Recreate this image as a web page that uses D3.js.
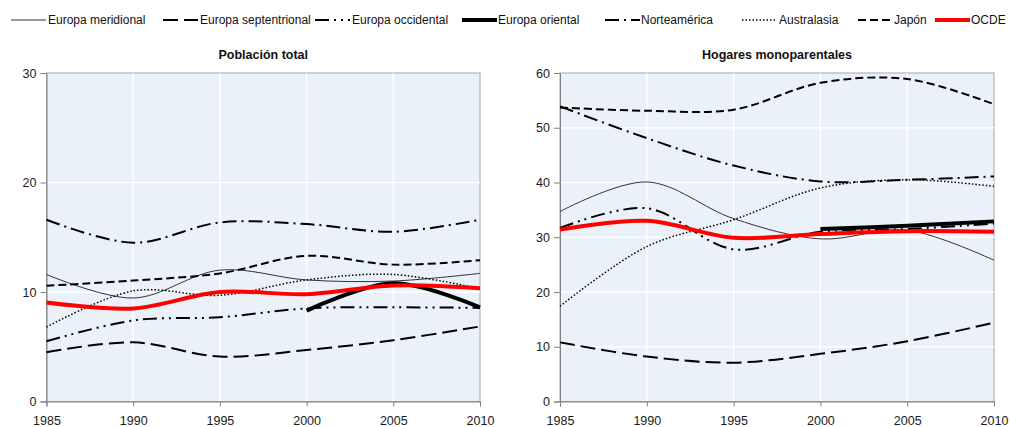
<!DOCTYPE html>
<html>
<head>
<meta charset="utf-8">
<script src="https://cdn.jsdelivr.net/npm/d3@7"></script>
<style>
  body { margin: 0; background: #fff; }
  svg { display: block; font-family: "Liberation Sans", Arial, sans-serif; }
</style>
</head>
<body>
<div id="chart"></div>
<script>
// years on the x axis
var years = [1985, 1990, 1995, 2000, 2005, 2010];

var seriesNames = ["Europa meridional", "Europa septentrional", "Europa occidental",
  "Europa oriental", "Norteamérica", "Australasia", "Japón", "OCDE"];

// Población total (%)
var totalMeridional    = [11.6, 9.45, 12.0, 11.1, 11.0, 11.7];
var totalSeptentrional = [4.5, 5.4, 4.1, 4.7, 5.6, 6.85];
var totalOccidental    = [5.5, 7.4, 7.7, 8.5, 8.6, 8.55];
var totalOriental      = [null, null, null, 8.3, 10.8, 8.6];
var totalNorteamerica  = [16.6, 14.5, 16.35, 16.2, 15.5, 16.6];
var totalAustralasia   = [6.8, 10.1, 9.7, 11.1, 11.6, 10.3];
var totalJapon         = [10.57, 11.05, 11.7, 13.3, 12.5, 12.9];
var totalOCDE          = [9.05, 8.5, 10.0, 9.8, 10.6, 10.35];

// Hogares monoparentales (%)
var monoMeridional    = [34.7, 40.1, 33.4, 29.7, 31.3, 25.8];
var monoSeptentrional = [10.8, 8.2, 7.1, 8.7, 11.0, 14.4];
var monoOccidental    = [31.7, 35.3, 27.8, 31.0, 31.5, 32.5];
var monoOriental      = [null, null, null, 31.5, 32.1, 32.9];
var monoNorteamerica  = [53.9, 48.1, 43.1, 40.2, 40.5, 41.1];
var monoAustralasia   = [17.4, 28.3, 33.2, 39.0, 40.5, 39.3];
var monoJapon         = [53.7, 53.1, 53.3, 58.2, 58.9, 54.3];
var monoOCDE          = [31.4, 33.0, 29.9, 30.6, 31.1, 31.0];

var totalTicks = [0, 10, 20, 30];
var monoTicks = [0, 10, 20, 30, 40, 50, 60];

// line styles, same order as seriesNames
var styles = [
  {color: "#333", width: 1, dash: null},
  {color: "#000", width: 2, dash: "15,6"},
  {color: "#000", width: 2, dash: "14,5,2,5,2,5"},
  {color: "#000", width: 4, dash: null},
  {color: "#000", width: 2, dash: "14,5,2,5"},
  {color: "#000", width: 1.5, dash: "1.5,2"},
  {color: "#000", width: 2, dash: "8,4"},
  {color: "#ff0000", width: 4, dash: null}
];

var W = 1018, H = 427;
var svg = d3.select("#chart").append("svg").attr("width", W).attr("height", H);

// legend
var legendX = [11, 163, 315, 462, 605, 742, 858, 935];
var legend = svg.append("g").attr("class", "legend");
seriesNames.forEach(function(name, i){
    var g = legend.append("g").attr("transform", "translate(" + legendX[i] + ",20)");
    var s = styles[i];
    g.append("line")
        .attr("x1", 0).attr("x2", 35).attr("y1", 0).attr("y2", 0)
        .attr("stroke", s.color)
        .attr("stroke-width", s.width)
        .attr("stroke-dasharray", s.dash);
    g.append("text")
        .attr("x", i == 0 || i == 1 || i == 2 || i == 5 ? 37 : 36)
        .attr("y", 0)
        .attr("dy", ".35em")
        .style("font-size", "12px")
        .attr("fill", "#111")
        .text(name);
});

function drawPanel(left, right, title, maxY, ticks, series){
    var top = 73, bottom = 401.5;
    var x = d3.scaleLinear().domain([1985, 2010]).range([left, right]);
    var y = d3.scaleLinear().domain([0, maxY]).range([bottom, top]);
    var g = svg.append("g");

    g.append("rect")
        .attr("x", left).attr("y", top)
        .attr("width", right - left).attr("height", bottom - top)
        .attr("fill", "#ebf1f9")
        .attr("stroke", "#a6a6a6");

    // white grid
    g.selectAll("line.vgrid").data(years.slice(1, -1)).enter().append("line")
        .attr("class", "vgrid")
        .attr("x1", function(d){ return x(d); }).attr("x2", function(d){ return x(d); })
        .attr("y1", top).attr("y2", bottom)
        .attr("stroke", "#fff").attr("stroke-width", 1.5);
    g.selectAll("line.hgrid").data(ticks.slice(1, -1)).enter().append("line")
        .attr("class", "hgrid")
        .attr("x1", left).attr("x2", right)
        .attr("y1", function(d){ return y(d); }).attr("y2", function(d){ return y(d); })
        .attr("stroke", "#fff").attr("stroke-width", 1.5);

    var xAxis = g.append("g")
        .attr("transform", "translate(0," + bottom + ")")
        .call(d3.axisBottom(x).tickValues(years).tickFormat(d3.format("d")).tickSize(5).tickPadding(10));
    var yAxis = g.append("g")
        .attr("transform", "translate(" + left + ",0)")
        .call(d3.axisLeft(y).tickValues(ticks).tickSize(6).tickPadding(4));
    [xAxis, yAxis].forEach(function(a){
        a.select(".domain").attr("stroke", "#808080");
        a.selectAll(".tick line").attr("stroke", "#808080");
        a.selectAll("text").style("font-size", "12.5px").attr("fill", "#1a1a1a")
            .style("font-family", "'Liberation Sans', Arial, sans-serif");
    });

    g.append("text")
        .attr("x", (left + right) / 2)
        .attr("y", 59)
        .attr("text-anchor", "middle")
        .style("font-size", "12.5px")
        .style("font-weight", "bold")
        .attr("fill", "#111")
        .text(title);

    var line = d3.line()
        .defined(function(d){ return d.v != null; })
        .x(function(d){ return x(d.year); })
        .y(function(d){ return y(d.v); })
        .curve(d3.curveCatmullRom.alpha(0.5));

    series.forEach(function(vals, i){
        var pts = years.map(function(yr, k){ return {year: yr, v: vals[k]}; });
        var s = styles[i];
        g.append("path")
            .attr("d", line(pts))
            .attr("fill", "none")
            .attr("stroke", s.color)
            .attr("stroke-width", s.width)
            .attr("stroke-dasharray", s.dash);
    });
}

drawPanel(46.5, 480, "Población total", 30, totalTicks,
    [totalMeridional, totalSeptentrional, totalOccidental, totalOriental,
     totalNorteamerica, totalAustralasia, totalJapon, totalOCDE]);
drawPanel(560, 994, "Hogares monoparentales", 60, monoTicks,
    [monoMeridional, monoSeptentrional, monoOccidental, monoOriental,
     monoNorteamerica, monoAustralasia, monoJapon, monoOCDE]);
</script>
</body>
</html>
